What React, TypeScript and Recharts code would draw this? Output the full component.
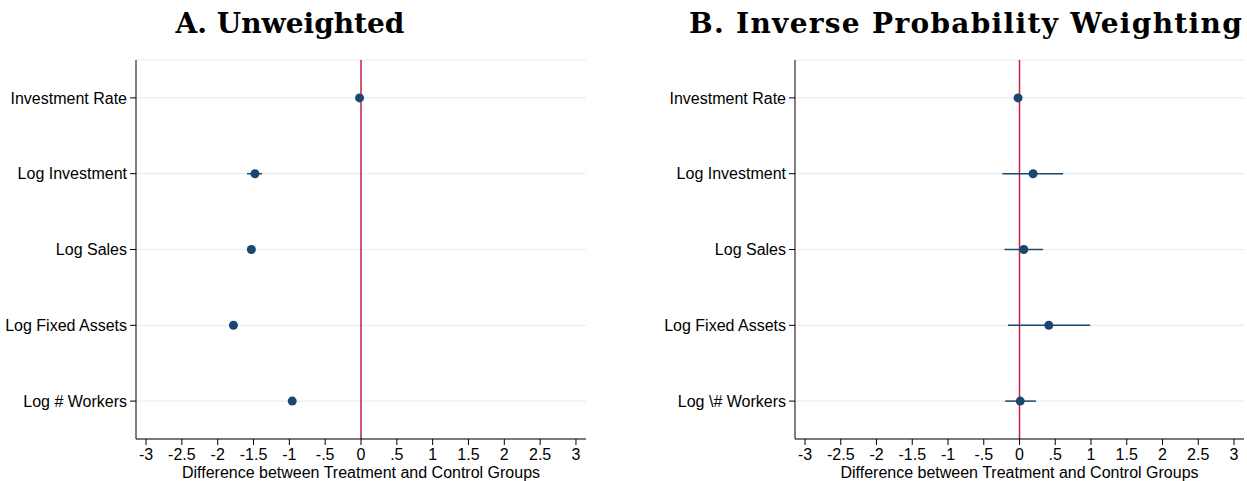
import React from 'react';
import { ScatterChart, Scatter, XAxis, YAxis, CartesianGrid, ReferenceLine, ErrorBar } from 'recharts';

const leftLabels = ['Investment Rate', 'Log Investment', 'Log Sales', 'Log Fixed Assets', 'Log # Workers'];
const rightLabels = ['Investment Rate', 'Log Investment', 'Log Sales', 'Log Fixed Assets', 'Log \\# Workers'];

// panel A: unweighted differences with 95% CI
const unwEst = [-0.02, -1.48, -1.53, -1.78, -0.96];
const unwLo = [-0.05, -1.59, -1.58, -1.83, -1.0];
const unwHi = [0.01, -1.38, -1.48, -1.73, -0.92];

// panel B: inverse probability weighting
const ipwEst = [-0.02, 0.19, 0.06, 0.41, 0.01];
const ipwLo = [-0.05, -0.24, -0.21, -0.16, -0.2];
const ipwHi = [0.01, 0.61, 0.33, 0.99, 0.23];

const xTicks = [-3, -2.5, -2, -1.5, -1, -0.5, 0, 0.5, 1, 1.5, 2, 2.5, 3];

const NAVY = '#1a476f';
const RED = '#c81e4a';
const GRID = '#e6eef2';
const FONT = '"Liberation Sans", Arial, sans-serif';

const fmtTick = (v: number) => {
  if (v === 0) return '0';
  const s = String(Math.abs(v)).replace(/^0\./, '.');
  return (v < 0 ? '-' : '') + s;
};

const build = (labels: string[], est: number[], lo: number[], hi: number[]) =>
  labels.map((name, i) => ({ name, value: est[i], err: [est[i] - lo[i], hi[i] - est[i]] }));

const Dot = (props: any) => <circle cx={props.cx} cy={props.cy} r={4.5} fill={NAVY} />;

type PanelProps = {
  data: { name: string; value: number; err: number[] }[];
  width: number;
  yWidth: number;
  right: number;
};

const Panel = ({ data, width, yWidth, right }: PanelProps) => (
  <ScatterChart width={width} height={481} margin={{ top: 60, right, bottom: 0, left: 0 }}>
    <CartesianGrid horizontal vertical={false} stroke={GRID} strokeWidth={1.2} />
    <XAxis
      type="number"
      dataKey="value"
      domain={[-3.14, 3.14]}
      ticks={xTicks}
      tickFormatter={fmtTick}
      allowDataOverflow
      height={42}
      stroke="#000"
      tickSize={6}
      tickMargin={4}
      tick={{ fill: '#000', fontSize: 16, fontFamily: FONT }}
      label={{
        value: 'Difference between Treatment and Control Groups',
        position: 'insideBottom',
        offset: 3,
        style: { fill: '#000', fontSize: 16, fontFamily: FONT },
      }}
    />
    <YAxis
      type="category"
      dataKey="name"
      reversed
      width={yWidth}
      stroke="#000"
      tickSize={6}
      tickMargin={3}
      tick={{ fill: '#000', fontSize: 16, fontFamily: FONT }}
    />
    <ReferenceLine x={0} stroke={RED} strokeWidth={1.5} ifOverflow="extendDomain" />
    <Scatter data={data} shape={<Dot />} isAnimationActive={false}>
      <ErrorBar dataKey="err" direction="x" width={0} stroke={NAVY} strokeWidth={1.5} />
    </Scatter>
  </ScatterChart>
);

const titleStyle: React.CSSProperties = {
  position: 'absolute',
  top: 7,
  fontFamily: '"DejaVu Serif", serif',
  fontWeight: 'bold',
  fontSize: 28,
  color: '#000',
  textAlign: 'center',
  whiteSpace: 'nowrap',
};

export default function App() {
  return (
    <div style={{ position: 'absolute', left: 0, top: 0, width: 1247, height: 481, background: '#fff' }}>
      <div style={{ ...titleStyle, left: 40, width: 500 }}>A. Unweighted</div>
      <div style={{ ...titleStyle, left: 666, width: 600, letterSpacing: 1.3 }}>B. Inverse Probability Weighting</div>
      <div style={{ position: 'absolute', left: 0, top: 0 }}>
        <Panel data={build(leftLabels, unwEst, unwLo, unwHi)} width={620} yWidth={136} right={34} />
      </div>
      <div style={{ position: 'absolute', left: 620, top: 0 }}>
        <Panel data={build(rightLabels, ipwEst, ipwLo, ipwHi)} width={627} yWidth={175} right={3} />
      </div>
    </div>
  );
}
